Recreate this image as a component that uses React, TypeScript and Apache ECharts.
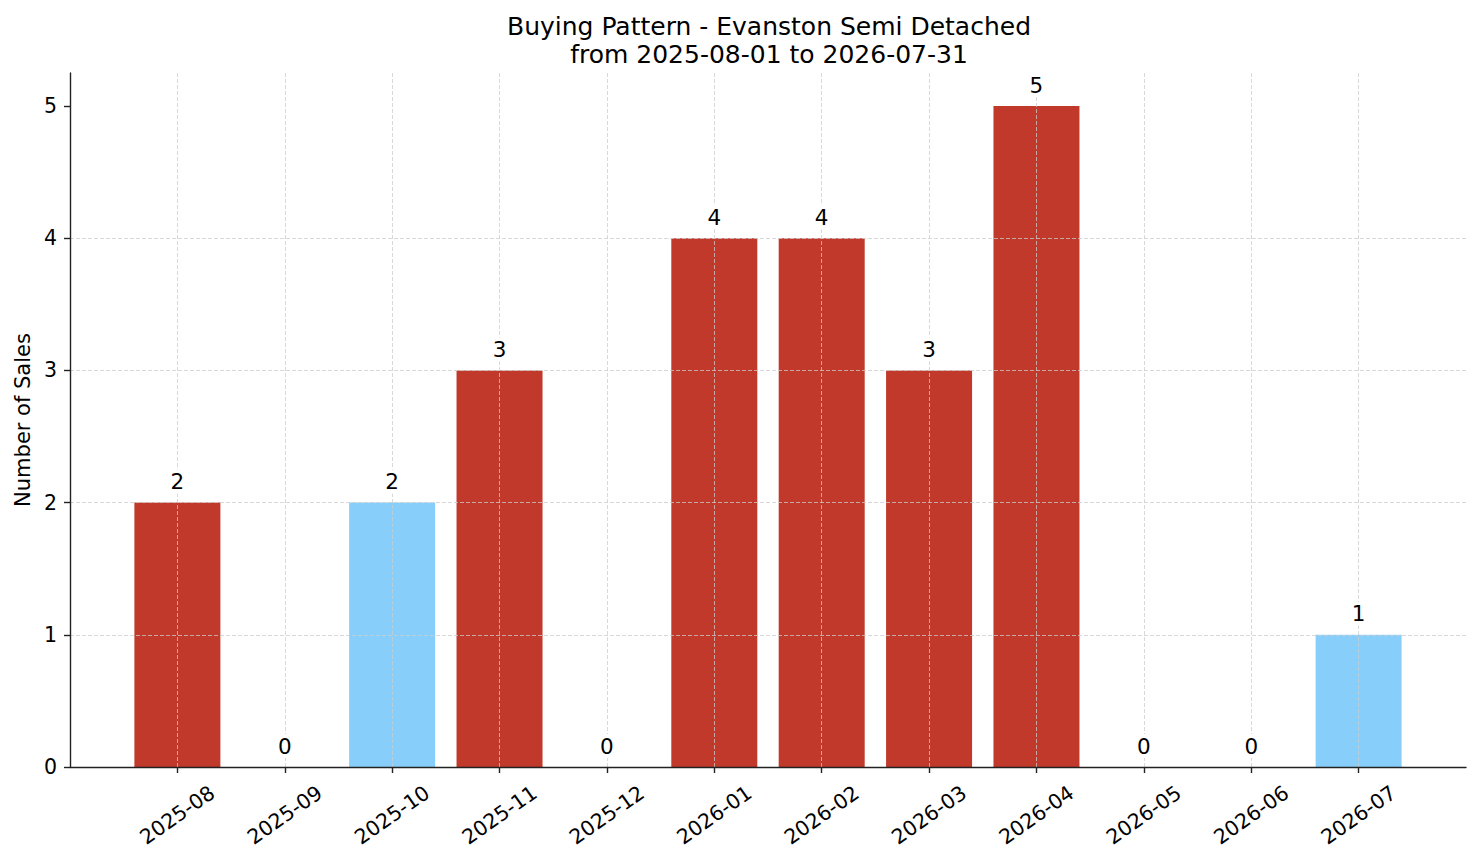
import { useEffect, useRef } from 'react';
import * as echarts from 'echarts';

// months on the x axis
const months = [
  '2025-08', '2025-09', '2025-10', '2025-11', '2025-12', '2026-01',
  '2026-02', '2026-03', '2026-04', '2026-05', '2026-06', '2026-07',
];
// number of sales per month
const sales = [2, 0, 2, 3, 0, 4, 4, 3, 5, 0, 0, 1];
// months drawn in light blue instead of red
const blueMonths = ['2025-10', '2026-07'];
const yTicks = [0, 1, 2, 3, 4, 5];

const titleText = 'Buying Pattern - Evanston Semi Detached\nfrom 2025-08-01 to 2026-07-31';
const FONT = 'DejaVu Sans';

export default function App() {
  const chartRef = useRef<HTMLDivElement>(null);

  useEffect(() => {
    document.body.style.margin = '0';
    if (!chartRef.current) return;
    const chart = echarts.init(chartRef.current, undefined, { renderer: 'svg' });

    // pad one empty slot on each side, like matplotlib's x margins
    const axisData = ['', ...months, ''];
    const inner = (i: number) => i > 0 && i < axisData.length - 1;
    const barData = [
      '-',
      ...sales.map((v, i) => ({
        value: v,
        itemStyle: { color: blueMonths.includes(months[i]) ? '#87cefa' : '#c0392b' },
      })),
      '-',
    ];
    const labelData = ['-', ...sales, '-'];

    const gridLine = { show: true, lineStyle: { color: '#cccccc', opacity: 0.75, type: [4, 2], width: 1 } };

    chart.setOption({
      animation: false,
      title: {
        text: titleText,
        left: 764,
        top: 7,
        textAlign: 'center',
        textStyle: { fontFamily: FONT, fontSize: 25, fontWeight: 'normal', color: '#000', lineHeight: 28 },
      },
      grid: { left: 70, right: 15, top: 73, bottom: 96 },
      xAxis: {
        type: 'category',
        data: axisData,
        boundaryGap: false,
        z: 3,
        axisLine: { lineStyle: { color: '#222', width: 1.4 } },
        axisTick: { interval: (i: number) => inner(i), length: 6, lineStyle: { color: '#222', width: 1.4 } },
        splitLine: { ...gridLine, interval: (i: number) => inner(i) },
        axisLabel: {
          interval: 0,
          rotate: 35,
          align: 'center',
          verticalAlign: 'middle',
          margin: 48,
          fontFamily: FONT,
          fontSize: 20.5,
          color: '#000',
        },
      },
      yAxis: {
        type: 'value',
        min: 0,
        max: 5.25,
        z: 3,
        name: 'Number of Sales',
        nameLocation: 'middle',
        nameGap: 36,
        nameTextStyle: { fontFamily: FONT, fontSize: 21, color: '#000' },
        axisLine: { show: true, lineStyle: { color: '#222', width: 1.4 } },
        axisTick: { show: true, customValues: yTicks, length: 6, lineStyle: { color: '#222', width: 1.4 } },
        axisLabel: { customValues: yTicks, margin: 13, fontFamily: FONT, fontSize: 20.5, color: '#000' },
        splitLine: { ...gridLine, showMaxLine: false },
      },
      series: [
        {
          type: 'bar',
          data: barData,
          barWidth: 86,
          z: 2,
        },
        {
          // transparent twin bars that only carry the value labels above the grid lines
          type: 'bar',
          data: labelData,
          barWidth: 86,
          barGap: '-100%',
          silent: true,
          z: 5,
          itemStyle: { color: 'rgba(0,0,0,0)' },
          label: {
            show: true,
            position: 'top',
            distance: 9,
            fontFamily: FONT,
            fontSize: 21.5,
            color: '#000',
            backgroundColor: '#fff',
            padding: [1, 3],
          },
        },
      ],
    });

    return () => chart.dispose();
  }, []);

  return <div ref={chartRef} style={{ width: 1481, height: 863 }} />;
}
